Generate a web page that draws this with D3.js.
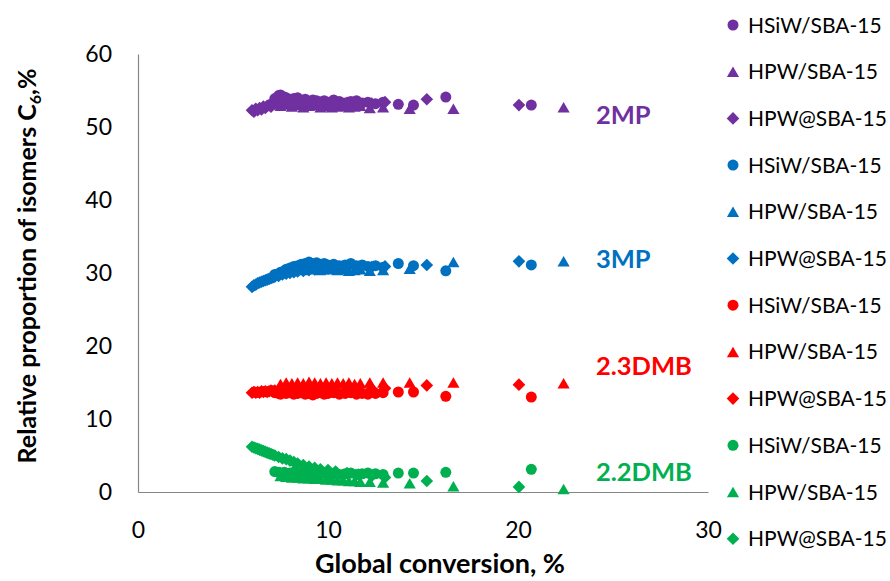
<!DOCTYPE html>
<html>
<head>
<meta charset="utf-8">
<script src="https://cdn.jsdelivr.net/npm/d3@7"></script>
<style>
  body { margin: 0; background: #fff; }
  svg { display: block; }
  text { font-family: Lato, "Open Sans", sans-serif; }
</style>
</head>
<body>
<svg id="chart" width="890" height="581"></svg>
<script>
// Axis ticks
const xTicks = [0, 10, 20, 30];
const yTicks = [0, 10, 20, 30, 40, 50, 60];

// Isomers and catalysts
const isomers = ["2MP", "3MP", "2.3DMB", "2.2DMB"];
const isomerColors = ["#7030A0", "#0070C0", "#FF0000", "#00B050"];
const catalysts = ["HSiW/SBA-15", "HPW/SBA-15", "HPW@SBA-15"];
const catalystShapes = ["circle", "triangle", "diamond"];

// HSiW/SBA-15: global conversion (%) and isomer proportions (%)
const convHSiW = [7.2, 7.4, 7.5, 7.7, 7.8, 8.0, 8.2, 8.4, 8.6, 8.8, 9.0, 9.2, 9.4, 9.6, 9.8, 10.0, 10.3, 10.6, 10.9, 11.2, 11.5, 11.8, 12.1, 12.5, 12.9, 13.7, 14.5, 16.2, 20.7];
const hsiw2MP   = [53.9, 54.3, 54.4, 54.1, 54.0, 53.8, 53.9, 54.0, 53.6, 53.8, 53.5, 53.7, 53.6, 53.4, 53.6, 53.4, 53.7, 53.5, 53.3, 53.5, 53.6, 53.3, 53.4, 53.2, 53.4, 53.1, 53.0, 54.1, 53.0];
const hsiw3MP   = [29.8, 29.9, 30.1, 30.3, 30.5, 30.7, 30.9, 31.0, 31.2, 31.3, 31.5, 31.3, 31.4, 31.2, 31.3, 31.1, 31.2, 31.0, 31.1, 31.3, 31.0, 31.1, 30.9, 31.0, 30.8, 31.3, 31.0, 30.3, 31.1];
const hsiw23DMB = [13.6, 13.5, 13.4, 13.6, 13.5, 13.6, 13.4, 13.5, 13.6, 13.4, 13.5, 13.3, 13.5, 13.6, 13.4, 13.5, 13.6, 13.4, 13.5, 13.6, 13.4, 13.5, 13.4, 13.5, 13.6, 13.7, 13.7, 13.1, 13.0];
const hsiw22DMB = [2.8, 2.7, 2.6, 2.7, 2.5, 2.6, 2.7, 2.5, 2.6, 2.4, 2.5, 2.6, 2.4, 2.5, 2.6, 2.4, 2.5, 2.4, 2.5, 2.6, 2.4, 2.5, 2.6, 2.5, 2.4, 2.6, 2.6, 2.7, 3.1];

// HPW/SBA-15
const convHPW = [7.5, 7.8, 8.1, 8.4, 8.7, 9.0, 9.3, 9.6, 9.9, 10.2, 10.5, 10.8, 11.1, 11.4, 11.7, 12.2, 12.9, 14.3, 16.6, 22.4];
const hpw2MP   = [52.9, 53.1, 52.8, 53.0, 52.7, 52.9, 53.0, 52.7, 52.9, 52.7, 52.8, 52.9, 52.7, 52.8, 52.9, 52.6, 52.7, 52.5, 52.5, 52.7];
const hpw3MP   = [30.0, 30.2, 30.4, 30.5, 30.4, 30.6, 30.5, 30.4, 30.6, 30.5, 30.4, 30.5, 30.3, 30.4, 30.5, 30.3, 30.4, 30.6, 31.5, 31.6];
const hpw23DMB = [14.8, 15.0, 14.9, 15.0, 14.9, 15.1, 15.0, 14.9, 15.0, 14.9, 15.0, 14.9, 15.0, 14.8, 14.9, 15.0, 15.0, 15.0, 15.0, 14.9];
const hpw22DMB = [2.2, 2.1, 2.0, 2.0, 1.9, 1.9, 1.8, 1.8, 1.7, 1.7, 1.6, 1.6, 1.5, 1.5, 1.4, 1.4, 1.3, 1.2, 0.8, 0.4];

// HPW@SBA-15
const convHPWat = [6.0, 6.1, 6.2, 6.3, 6.4, 6.5, 6.6, 6.7, 6.8, 6.9, 7.0, 7.1, 7.2, 7.4, 7.6, 7.8, 8.0, 8.2, 8.4, 8.7, 9.0, 9.3, 9.6, 10.0, 10.4, 11.0, 11.6, 12.3, 13.0, 15.2, 20.05];
const hpwAt2MP   = [52.3, 52.1, 52.5, 52.3, 52.6, 52.4, 52.8, 52.6, 52.9, 53.0, 52.8, 53.1, 53.2, 53.3, 53.5, 53.4, 53.6, 53.5, 53.4, 53.3, 53.4, 53.2, 53.3, 53.1, 53.2, 53.3, 53.1, 53.2, 53.4, 53.8, 53.0];
const hpwAt3MP   = [28.1, 28.3, 28.4, 28.6, 28.7, 28.8, 28.9, 29.0, 29.1, 29.2, 29.3, 29.4, 29.5, 29.6, 29.8, 29.9, 30.0, 30.1, 30.2, 30.3, 30.4, 30.5, 30.6, 30.6, 30.7, 30.7, 30.8, 30.8, 30.9, 31.1, 31.6];
const hpwAt23DMB = [13.6, 13.7, 13.6, 13.7, 13.6, 13.8, 13.7, 13.8, 13.7, 13.8, 13.9, 13.8, 13.9, 13.9, 14.0, 13.9, 14.0, 14.1, 14.0, 14.1, 14.0, 14.1, 14.0, 14.1, 14.0, 14.1, 14.0, 14.1, 14.2, 14.6, 14.7];
const hpwAt22DMB = [6.2, 6.1, 6.0, 5.9, 5.8, 5.7, 5.6, 5.5, 5.4, 5.3, 5.2, 5.1, 5.0, 4.8, 4.6, 4.5, 4.3, 4.1, 3.9, 3.7, 3.5, 3.3, 3.1, 3.0, 2.8, 2.6, 2.4, 2.2, 2.0, 1.5, 0.7];

// Series in drawing/legend order: isomer by isomer, catalyst by catalyst
const conversions = [convHSiW, convHPW, convHPWat];
const valuesByIsomer = [
  [hsiw2MP, hpw2MP, hpwAt2MP],
  [hsiw3MP, hpw3MP, hpwAt3MP],
  [hsiw23DMB, hpw23DMB, hpwAt23DMB],
  [hsiw22DMB, hpw22DMB, hpwAt22DMB]
];
const series = [];
isomers.forEach((iso, i) => {
  catalysts.forEach((cat, j) => {
    series.push({
      isomer: iso, catalyst: cat, color: isomerColors[i], shape: catalystShapes[j],
      points: conversions[j].map((c, k) => ({ x: c, y: valuesByIsomer[i][j][k] }))
    });
  });
});

// Marker shapes: triangle and diamond centred on their bounding box
const symTriangle = {
  draw(ctx, size) {
    const w = Math.sqrt(size * 4 / Math.sqrt(3)), h = w * Math.sqrt(3) / 2;
    ctx.moveTo(0, -h / 2); ctx.lineTo(w / 2, h / 2); ctx.lineTo(-w / 2, h / 2); ctx.closePath();
  }
};
const symDiamond = {
  draw(ctx, size) {
    const r = Math.sqrt(size / 2);
    ctx.moveTo(0, -r); ctx.lineTo(r, 0); ctx.lineTo(0, r); ctx.lineTo(-r, 0); ctx.closePath();
  }
};
const symbols = {
  circle: d3.symbol(d3.symbolCircle, 95)(),
  triangle: d3.symbol(symTriangle, 64)(),
  diamond: d3.symbol(symDiamond, 80)()
};

const svg = d3.select("#chart");
const x = d3.scaleLinear().domain([0, 30]).range([138, 708]);
const y = d3.scaleLinear().domain([0, 60]).range([492, 54]);

// Axes
const gx = svg.append("g")
  .attr("transform", `translate(0,${y(0)})`)
  .call(d3.axisBottom(x).tickValues(xTicks).tickSize(0).tickPadding(30).tickFormat(d3.format("d")));
const gy = svg.append("g")
  .attr("transform", `translate(${x(0)},0)`)
  .call(d3.axisLeft(y).tickValues(yTicks).tickSize(0).tickPadding(26).tickFormat(d3.format("d")));
[gx, gy].forEach(g => {
  g.attr("font-family", "Lato, 'Open Sans', sans-serif").attr("font-size", 23);
  g.select(".domain").attr("stroke", "#868686").attr("stroke-width", 1.2);
  g.selectAll(".tick text").attr("fill", "#000");
});

// Points
svg.append("g").selectAll("g.series")
  .data(series).join("g").attr("class", "series")
  .attr("fill", d => d.color)
  .selectAll("path")
  .data(d => d.points.map(p => ({ ...p, shape: d.shape })))
  .join("path")
  .attr("d", d => symbols[d.shape])
  .attr("transform", d => `translate(${x(d.x)},${y(d.y)})`);

// Isomer labels (baseline anchored in data units)
const labelPos = [[24.1, 50.4], [24.1, 30.7], [24.1, 16.0], [24.1, 1.5]];
svg.append("g").selectAll("text")
  .data(isomers).join("text")
  .attr("x", (d, i) => x(labelPos[i][0]))
  .attr("y", (d, i) => y(labelPos[i][1]))
  .attr("fill", (d, i) => isomerColors[i])
  .attr("font-size", 25.5).attr("font-weight", 700)
  .text(d => d);

// Legend
const legend = svg.append("g").selectAll("g")
  .data(series).join("g")
  .attr("transform", (d, i) => `translate(733,${25 + i * 46.7})`);
legend.append("path")
  .attr("d", d => symbols[d.shape])
  .attr("fill", d => d.color);
legend.append("text")
  .attr("x", 15).attr("dy", "0.36em")
  .attr("font-size", 21).attr("fill", "#000")
  .text(d => d.catalyst);

// Axis titles
svg.append("text")
  .attr("x", 440).attr("y", 573)
  .attr("text-anchor", "middle")
  .attr("font-size", 27).attr("font-weight", 700)
  .text("Global conversion, %");

const yt = svg.append("text")
  .attr("transform", "translate(36,266) rotate(-90)")
  .attr("text-anchor", "middle")
  .attr("font-size", 25).attr("font-weight", 700);
yt.append("tspan").text("Relative proportion of isomers C");
yt.append("tspan").attr("font-size", 16).attr("dy", 5).text("6");
yt.append("tspan").attr("dy", -5).text(",%");
</script>
</body>
</html>
